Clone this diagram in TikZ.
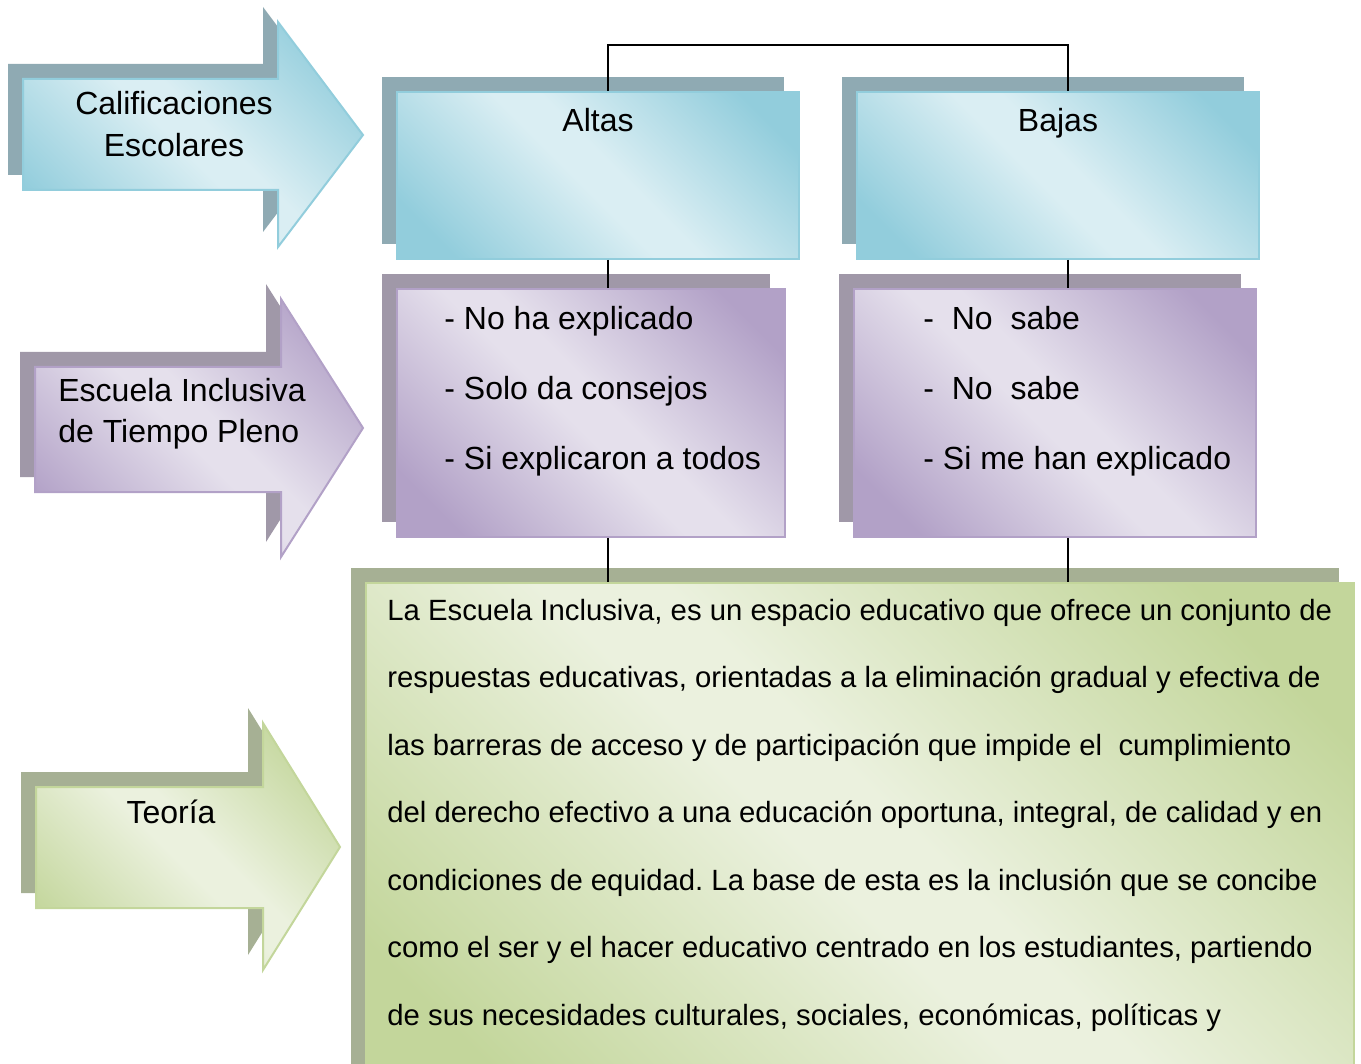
\documentclass[tikz,border=0pt]{standalone}
\usepackage{fontspec}
\setmainfont{Liberation Sans}
\usetikzlibrary{shadows,positioning}
\frenchspacing

\definecolor{azulclaro}{HTML}{DAEEF3}
\definecolor{azuloscuro}{HTML}{92CDDC}
\definecolor{azulsombra}{HTML}{8FAAB3}
\definecolor{moradoclaro}{HTML}{E5E0EC}
\definecolor{moradooscuro}{HTML}{B2A1C7}
\definecolor{moradosombra}{HTML}{A098A8}
\definecolor{verdeclaro}{HTML}{EBF1DE}
\definecolor{verdeoscuro}{HTML}{C3D69B}
\definecolor{verdesombra}{HTML}{A6B094}

% degradado diagonal: oscuro - claro - oscuro
\newcommand\degradado[3]{\pgfdeclarehorizontalshading{#1}{100bp}{color(0bp)=(#2); color(22bp)=(#2); color(47bp)=(#3); color(53bp)=(#3); color(78bp)=(#2); color(100bp)=(#2)}}
\degradado{degazul}{azuloscuro}{azulclaro}
\degradado{degmorado}{moradooscuro}{moradoclaro}
\degradado{degverde}{verdeoscuro}{verdeclaro}

\begin{document}
\begin{tikzpicture}[x=0.5pt,y=-0.5pt,
  forma/.style={draw=#1oscuro, line width=1pt, shade, shading=deg#1, shading angle=45,
    general shadow={fill=#1sombra, shadow xshift=-7.5pt, shadow yshift=7.5pt}},
  caja/.style={forma=#1, rectangle, inner sep=0pt, anchor=north west},
  etiqueta/.style={font=\fontsize{16}{19}\selectfont, inner sep=0pt},
  parrafo/.style={font=\fontsize{14.65}{17}\selectfont, inner sep=0pt, anchor=base west},
  linea/.style={line width=0.7pt}]
\useasboundingbox (0,0) rectangle (1361,1064);

% flechas de la izquierda
\draw[forma=azul] (23,79) -- (278,79) -- (278,22) -- (363,135) -- (278,247) -- (278,190) -- (23,190) -- cycle;
\draw[forma=morado] (35,367) -- (281,367) -- (281,299) -- (363,428) -- (281,557) -- (281,492) -- (35,492) -- cycle;
\draw[forma=verde] (36,787) -- (263,787) -- (263,723) -- (340,847) -- (263,970) -- (263,908) -- (36,908) -- cycle;

\node[etiqueta, anchor=base] (califA) at (174,115) {Calificaciones};
\node[etiqueta, anchor=base] (califB) at (174,157) {Escolares};
\node[etiqueta, anchor=base west] (escA) at (58,401) {Escuela Inclusiva};
\node[etiqueta, anchor=base west] (escB) at (58,443) {de Tiempo Pleno};
\node[etiqueta, anchor=base] (teoria) at (171,823) {Teoría};

% cajas
\node[caja=azul, minimum width=201pt, minimum height=83.5pt] (altas) at (396,91) {};
\node[caja=azul, minimum width=201pt, minimum height=83.5pt] (bajas) at (856,91) {};
\node[caja=morado, minimum width=194pt, minimum height=124pt] (respA) at (396,288) {};
\node[caja=morado, minimum width=201pt, minimum height=124pt] (respB) at (853,288) {};
\node[caja=verde, minimum width=494pt, minimum height=260pt] (defin) at (365,582) {};

\node[etiqueta, anchor=base] (tAltas) at ([yshift=-20.5pt]altas.north) {Altas};
\node[etiqueta, anchor=base] (tBajas) at ([yshift=-20.5pt]bajas.north) {Bajas};

\foreach \t [count=\i from 0] in {- No ha explicado, - Solo da consejos, - Si explicaron a todos}
  \node[etiqueta, anchor=base west] (rA\i) at (444,330+69.5*\i) {\t};
\foreach \t [count=\i from 0] in {-\ \ No\ \ sabe, -\ \ No\ \ sabe, - Si me han explicado}
  \node[etiqueta, anchor=base west] (rB\i) at (923,330+69.5*\i) {\t};

\foreach \t [count=\i from 0] in {
  {La Escuela Inclusiva, es un espacio educativo que ofrece un conjunto de},
  {respuestas educativas, orientadas a la eliminación gradual y efectiva de},
  {las barreras de acceso y de participación que impide el\ \ cumplimiento},
  {del derecho efectivo a una educación oportuna, integral, de calidad y en},
  {condiciones de equidad. La base de esta es la inclusión que se concibe},
  {como el ser y el hacer educativo centrado en los estudiantes, partiendo},
  {de sus necesidades culturales, sociales, económicas, políticas y}}
  \node[parrafo] (linea\i) at (387,620+67.5*\i) {\t};

% conectores
\coordinate (ejeA) at (608,45);
\coordinate (ejeB) at (1068,45);
\draw[linea] (ejeA |- altas.north) -- (ejeA) -- (ejeB) -- (ejeB |- bajas.north);
\draw[linea] (ejeA |- altas.south) -- (ejeA |- respA.north);
\draw[linea] (ejeB |- bajas.south) -- (ejeB |- respB.north);
\draw[linea] (ejeA |- respA.south) -- (ejeA |- defin.north);
\draw[linea] (ejeB |- respB.south) -- (ejeB |- defin.north);
\end{tikzpicture}
\end{document}
